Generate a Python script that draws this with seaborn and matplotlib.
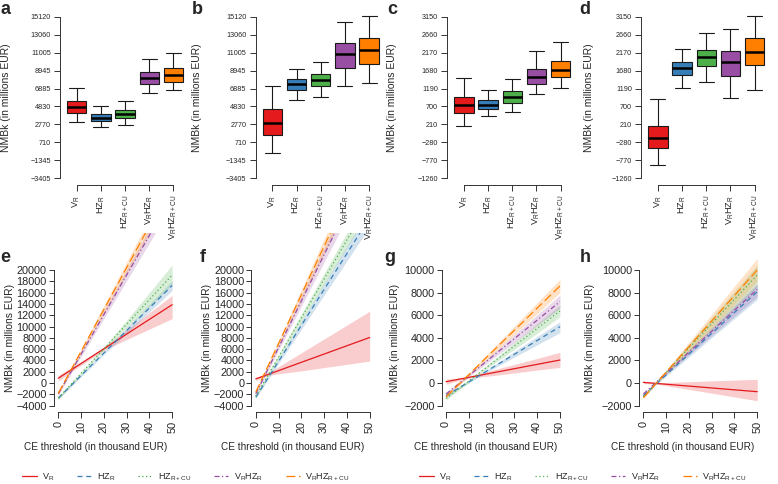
import numpy as np
import pandas as pd
import matplotlib
matplotlib.use("Agg")
import matplotlib.pyplot as plt
from matplotlib.lines import Line2D
import seaborn as sns

sns.set_theme(style="ticks")
plt.rcParams['font.family'] = ['Liberation Sans', 'DejaVu Sans']
plt.rcParams['axes.edgecolor'] = '#333333'

# ---- data -------------------------------------------------------------
groups = ["VR", "HZR", "HZRCU", "VRHZR", "VRHZRCU"]
group_labels = [r"$\mathregular{V_R}$", r"$\mathregular{HZ_R}$", r"$\mathregular{HZ_{R+CU}}$",
                r"$\mathregular{V_RHZ_R}$", r"$\mathregular{V_RHZ_{R+CU}}$"]
colors = ["#E41A1C", "#377EB8", "#4DAF4A", "#984EA3", "#FF7F00"]

# box panels: [whisker low, q1, median, q3, whisker high]
a_box = [[3000, 4075, 4765, 5455, 6951], [2502, 3116, 3537, 3959, 4918],
         [2694, 3461, 3959, 4458, 5494], [6414, 7411, 8063, 8830, 10326],
         [6721, 7603, 8408, 9252, 10940]]
b_box = [[-490, 1581, 2962, 4535, 7219], [5532, 6759, 7411, 7948, 9175],
         [5877, 7181, 7910, 8523, 9904], [7142, 9290, 10863, 12128, 14583],
         [7526, 9751, 11361, 12704, 15197]]
c_box = [[155, 521, 740, 950, 1488], [429, 630, 749, 867, 1141],
         [539, 785, 959, 1123, 1443], [1041, 1315, 1497, 1726, 2210],
         [1205, 1507, 1707, 1954, 2456]]
d_box = [[-904, -447, -155, 174, 913], [1205, 1561, 1744, 1927, 2283],
         [1361, 1808, 2054, 2255, 2712], [941, 1543, 1908, 2228, 2821],
         [1160, 1826, 2191, 2566, 3187]]
ab_ticks = [-3405, -1345, 710, 2770, 4830, 6885, 8945, 11005, 13060, 15120]
cd_ticks = [-1260, -770, -280, 210, 700, 1190, 1680, 2170, 2660, 3150]

# line panels: estimate, lower and upper band at each CE threshold
thresholds = [0, 5, 10, 20, 30, 40, 50]

e_mid = [[860, 2160, 3460, 6060, 8660, 11260, 13860],
         [-2650, -660, 1330, 5310, 9290, 13270, 17250],
         [-2650, -475, 1700, 6050, 10400, 14750, 19100],
         [-1900, 1600, 5100, 12100, 19100, 26100, 33100],
         [-1800, 1900, 5600, 13000, 20400, 27800, 35200]]
e_lo = [[360, 1800, 3150, 5800, 7700, 9550, 11400],
        [-2900, -880, 1100, 5050, 8800, 12600, 16400],
        [-2900, -720, 1450, 5750, 9700, 13600, 17500],
        [-2150, 1300, 4700, 11400, 18100, 24800, 31500],
        [-2050, 1580, 5200, 12300, 19400, 26500, 33600]]
e_hi = [[1360, 2550, 3750, 6350, 9400, 12450, 15500],
        [-2400, -440, 1550, 5550, 9700, 13900, 18100],
        [-2400, -230, 1950, 6350, 11100, 16000, 20900],
        [-1650, 1900, 5500, 12800, 20100, 27400, 34700],
        [-1550, 2220, 6000, 13700, 21400, 29100, 36800]]

f_mid = [[740, 1470, 2200, 3670, 5130, 6600, 8060],
         [-2500, 675, 3850, 10200, 16550, 22900, 29250],
         [-2300, 1150, 4600, 11500, 18400, 25300, 32200],
         [-1900, 2200, 6300, 14500, 22700, 30900, 39100],
         [-1600, 2700, 7000, 15600, 24200, 32800, 41400]]
f_lo = [[450, 1300, 1650, 2150, 2750, 3300, 3900],
        [-2750, 400, 3450, 9500, 15550, 21600, 27650],
        [-2550, 850, 4200, 10800, 17400, 24000, 30600],
        [-2150, 1850, 5800, 13600, 21400, 29200, 37000],
        [-1850, 2300, 6500, 14700, 22900, 31100, 39300]]
f_hi = [[1030, 1650, 2900, 5350, 7800, 10250, 12700],
        [-2250, 950, 4250, 10900, 17550, 24200, 30850],
        [-2050, 1450, 5000, 12200, 19400, 26600, 33800],
        [-1650, 2550, 6800, 15400, 24000, 32600, 41200],
        [-1350, 3100, 7500, 16500, 25500, 34500, 43500]]

g_mid = [[124, 315, 507, 890, 1274, 1657, 2040],
         [-1114, -504, 106, 1327, 2547, 3768, 4988],
         [-1350, -578, 195, 1740, 3285, 4830, 6374],
         [-967, -150, 666, 2300, 3933, 5566, 7200],
         [-1200, -222, 757, 2714, 4671, 6628, 8585]]
g_lo = [[-100, 190, 440, 650, 900, 1150, 1390],
        [-1250, -620, 20, 1200, 2300, 3380, 4460],
        [-1500, -700, 100, 1580, 2980, 4400, 5870],
        [-1120, -260, 560, 2080, 3580, 5100, 6610],
        [-1360, -350, 640, 2460, 4300, 6150, 7995]]
g_hi = [[350, 440, 580, 1130, 1650, 2180, 2720],
        [-980, -390, 200, 1450, 2800, 4120, 5430],
        [-1200, -450, 290, 1900, 3580, 5250, 6900],
        [-810, -40, 770, 2520, 4280, 6030, 7790],
        [-1040, -95, 870, 2970, 5040, 7110, 9175]]

h_mid = [[65, -18, -100, -265, -430, -595, -760],
         [-1114, -194, 726, 2566, 4405, 6245, 8084],
         [-1200, -124, 952, 3103, 5255, 7406, 9558],
         [-967, -42, 884, 2735, 4587, 6438, 8290],
         [-1290, -161, 968, 3226, 5484, 7742, 10000]]
h_lo = [[-50, -60, -230, -560, -890, -1225, -1560],
        [-1210, -230, 620, 2320, 4020, 5710, 7400],
        [-1300, -170, 820, 2750, 4680, 6600, 8530],
        [-1060, -80, 780, 2500, 4210, 5930, 7640],
        [-1400, -210, 800, 2830, 4880, 6920, 8970]]
h_hi = [[180, 25, 60, 125, 195, 265, 330],
        [-1020, -160, 840, 2810, 4770, 6720, 8670],
        [-1100, -80, 1090, 3460, 5790, 8110, 10440],
        [-870, -5, 990, 2960, 4920, 6870, 8820],
        [-1180, -110, 1120, 3600, 6080, 8560, 11030]]

ef_ticks = list(range(-4000, 20001, 2000))
gh_ticks = list(range(-2000, 10001, 2000))
x_ticks = [0, 10, 20, 30, 40, 50]

dashes = ["", (4, 3), (1, 2), (4, 2, 1, 2), (7, 3)]

# ---- layout ---------------------------------------------------------------
W, H = 778, 484
fig = plt.figure(figsize=(W / 100, H / 100), dpi=100)


def px_axes(left, top, right, bottom):
    return fig.add_axes([left / W, 1 - bottom / H, (right - left) / W, (bottom - top) / H])


def minus(v):
    return str(v).replace("-", "\u2212")


def style_axes(ax):
    sns.despine(ax=ax)
    ax.tick_params(direction="out", length=4.5, width=0.7, color="#333333", pad=2)
    for s in ["left", "bottom"]:
        ax.spines[s].set_linewidth(0.7)


# top row: box plots
box_sets = [(a_box, ab_ticks, "a"), (b_box, ab_ticks, "b"), (c_box, cd_ticks, "c"), (d_box, cd_ticks, "d")]
box_lefts = [59.8, 255.5, 447, 641]
ylab_x_top = [6.5, 197.5, 391.7, 588.5]
letter_top = [(5.5, 9), (197.5, 9), (392.5, 9.5), (585, 9)]

for (stats, ticks, letter), left, yx, (lx, ly) in zip(box_sets, box_lefts, ylab_x_top, letter_top):
    ax = px_axes(left, 10.5, left + 130.5, 184.5)
    ax.set_zorder(2)
    ax.patch.set_visible(False)
    df = pd.DataFrame({"group": np.repeat(groups, 5), "val": np.ravel(stats)})
    sns.boxplot(data=df, x="group", y="val", hue="group", order=groups, hue_order=groups,
                palette=colors, saturation=1, width=0.8, whis=(0, 100),
                linecolor="#1a1a1a", linewidth=0.8,
                medianprops={"linewidth": 1.8, "color": "black"},
                capwidths=0.62, legend=False, ax=ax)
    span = ticks[-1] - ticks[0]
    ax.set_ylim(ticks[0] - 0.04 * span, ticks[-1] + 0.04 * span)
    ax.set_xlim(-0.7, 4.7)
    ax.set_yticks(ticks)
    ax.set_yticklabels([minus(t) for t in ticks], fontsize=5.2)
    ax.set_xticks(range(5))
    ax.set_xticklabels(group_labels, rotation=90, fontsize=6.7)
    ax.set(xlabel="", ylabel="")
    style_axes(ax)
    ax.tick_params(axis="x", pad=3)
    ax.spines["left"].set_bounds(ticks[0], ticks[-1])
    ax.spines["bottom"].set_bounds(0, 4)
    fig.text(yx / W, 1 - 97.5 / H, "NMBk (in millions EUR)", rotation=90,
             ha="center", va="center", fontsize=7.5)
    fig.text(lx / W, 1 - ly / H, letter, fontsize=13, fontweight="bold", ha="center", va="center")

# bottom row: lines with bands
line_sets = [(e_mid, e_lo, e_hi, ef_ticks, (-5169, 26544), "e"),
             (f_mid, f_lo, f_hi, ef_ticks, (-5169, 26544), "f"),
             (g_mid, g_lo, g_hi, gh_ticks, (-2582, 13271), "g"),
             (h_mid, h_lo, h_hi, gh_ticks, (-2582, 13271), "h")]
line_lefts = [53.7, 251.2, 441.5, 638.8]
ylab_x_bot = [10, 207, 395, 590]
letter_bot = [(5, 257), (203, 257), (390, 257), (585, 258)]
xlab_x = [95.5, 292.5, 485.5, 682.5]

for (mid, lo, hi, ticks, ylim, letter), left, yx, (lx, ly), xx in zip(
        line_sets, line_lefts, ylab_x_bot, letter_bot, xlab_x):
    ax = px_axes(left, 233, left + 123, 412.3)
    ax.patch.set_visible(False)
    rows = []
    for g, m, l, h in zip(groups, mid, lo, hi):
        for t, a, b, c in zip(thresholds, l, m, h):
            rows += [(g, t, a), (g, t, b), (g, t, c)]
    df = pd.DataFrame(rows, columns=["group", "thr", "val"])
    sns.lineplot(data=df, x="thr", y="val", hue="group", style="group",
                 hue_order=groups, style_order=groups, palette=colors, dashes=dashes,
                 estimator="median", errorbar=("pi", 100),
                 err_kws={"alpha": 0.22, "linewidth": 0}, linewidth=0.9,
                 legend=False, ax=ax)
    ax.set_xlim(-2, 52)
    ax.set_ylim(*ylim)
    ax.set_yticks(ticks)
    ax.set_yticklabels([minus(t) for t in ticks], fontsize=7.8)
    ax.set_xticks(x_ticks)
    ax.set_xticklabels(x_ticks, rotation=90, fontsize=7.8)
    ax.set(xlabel="", ylabel="")
    style_axes(ax)
    ax.tick_params(axis="y", length=3.5, pad=1.5)
    ax.tick_params(axis="x", length=4, pad=2.5)
    ax.spines["left"].set_bounds(ticks[0], ticks[-1])
    ax.spines["bottom"].set_bounds(0, 50)
    mid_y = 270 + (405.7 - 270) / 2
    fig.text(yx / W, 1 - mid_y / H, "NMBk (in millions EUR)", rotation=90,
             ha="center", va="center", fontsize=7.4)
    fig.text(lx / W, 1 - ly / H, letter, fontsize=13, fontweight="bold", ha="center", va="center")
    fig.text(xx / W, 1 - 447 / H, "CE threshold (in thousand EUR)", ha="center", va="center",
             fontsize=7.2)

# two legends under the line panels
handles = [Line2D([], [], color=c, lw=0.9, linestyle="-" if d == "" else (0, d))
           for c, d in zip(colors, dashes)]
for cx in [186, 583]:
    fig.legend(handles, group_labels, loc="center", bbox_to_anchor=(cx / W, 1 - 477 / H),
               ncol=5, frameon=False, fontsize=6.5, handlelength=1.6, handletextpad=0.6,
               columnspacing=2.5)

fig.savefig("out.png", dpi=100)
